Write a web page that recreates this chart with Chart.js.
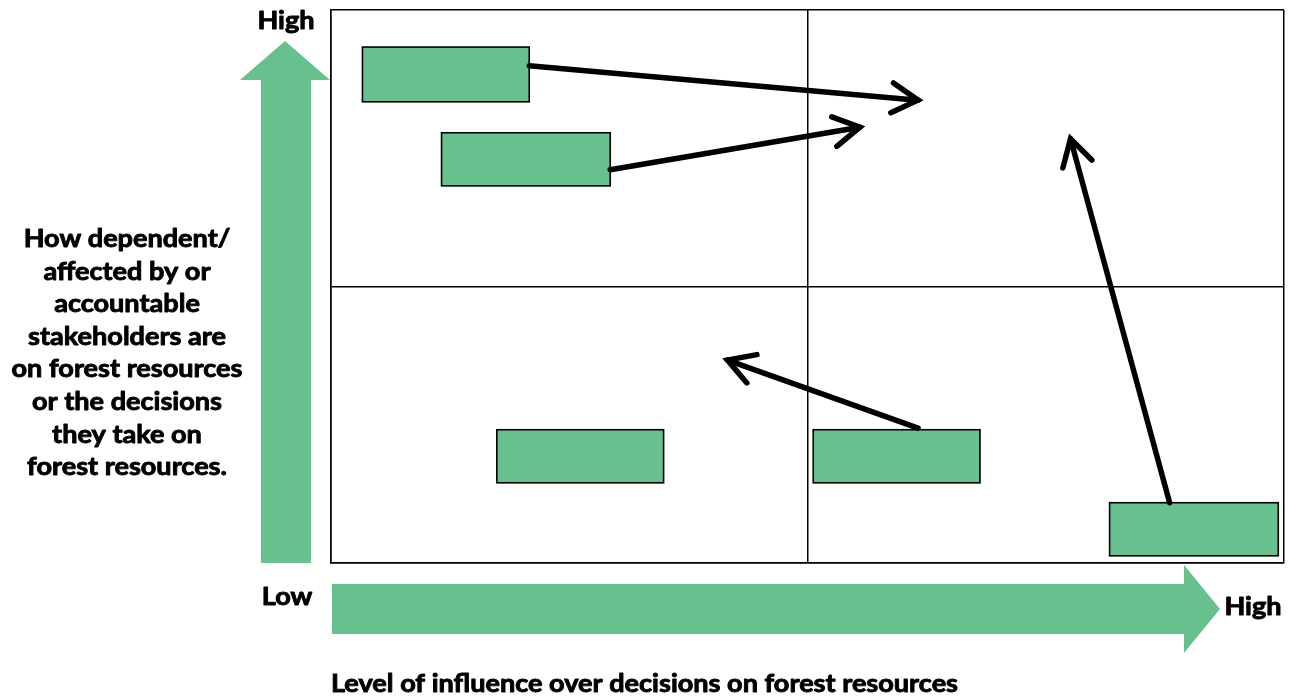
<!DOCTYPE html>
<html><head><meta charset="utf-8">
<script src="https://cdn.jsdelivr.net/npm/chart.js@4.4.1/dist/chart.umd.min.js"></script>
<style>html,body{margin:0;padding:0;background:#fff}#wrap{width:1298px;height:700px}</style>
</head><body><div id="wrap"><canvas id="c" width="1298" height="700"></canvas></div>
<script>
// Stakeholder boxes: x range (influence) and y range (dependency), 0-100 scale
const boxNames = ['A', 'B', 'C', 'D', 'E'];
const boxX0 = [3.3, 11.6, 17.4, 50.6, 81.7];
const boxX1 = [20.8, 29.3, 34.9, 68.1, 99.4];
const boxY0 = [83.4, 68.2, 14.5, 14.5, 1.3];
const boxY1 = [93.3, 77.8, 24.1, 24.1, 10.9];
// Arrows: start -> end
const arrowFromX = [20.8, 29.3, 61.6, 88.0];
const arrowFromY = [89.9, 71.1, 24.4, 10.9];
const arrowToX = [61.6, 55.5, 41.6, 77.6];
const arrowToY = [83.7, 78.8, 36.7, 76.7];
// Axis labels
const yAxisLines = ['How dependent/', 'affected by or', 'accountable', 'stakeholders are', 'on forest resources', 'or the decisions', 'they take on', 'forest resources.'];
const xAxisTitle = 'Level of influence over decisions on forest resources';
const lowLabel = 'Low', highLabel = 'High';

const GREEN = '#67c18e';
const FAMILY = 'Lato, "Open Sans", sans-serif';

const datasets = arrowFromX.map((x, i) => ({
  type: 'line',
  data: [{x: x, y: arrowFromY[i]}, {x: arrowToX[i], y: arrowToY[i]}],
  borderColor: '#000', borderWidth: 5.5, pointRadius: 0, borderCapStyle: 'round', fill: false
}));

const boxPlugin = {
  id: 'boxes',
  beforeDatasetsDraw(chart) {
    const {ctx, scales: {x, y}} = chart;
    ctx.save();
    boxNames.forEach((n, i) => {
      const l = x.getPixelForValue(boxX0[i]), r = x.getPixelForValue(boxX1[i]);
      const t = y.getPixelForValue(boxY1[i]), b = y.getPixelForValue(boxY0[i]);
      ctx.fillStyle = GREEN;
      ctx.fillRect(l, t, r - l, b - t);
      ctx.strokeStyle = '#000'; ctx.lineWidth = 1.6;
      ctx.strokeRect(l, t, r - l, b - t);
    });
    ctx.restore();
  },
  afterDatasetsDraw(chart) {
    const {ctx, scales: {x, y}} = chart;
    ctx.save();
    ctx.strokeStyle = '#000'; ctx.lineWidth = 5.5; ctx.lineCap = 'round'; ctx.lineJoin = 'miter';
    arrowFromX.forEach((fx, i) => {
      const x0 = x.getPixelForValue(fx), y0 = y.getPixelForValue(arrowFromY[i]);
      const x1 = x.getPixelForValue(arrowToX[i]), y1 = y.getPixelForValue(arrowToY[i]);
      const a = Math.atan2(y1 - y0, x1 - x0);
      const L = 30, h = Math.PI / 6;
      ctx.beginPath();
      ctx.moveTo(x1 - L * Math.cos(a - h), y1 - L * Math.sin(a - h));
      ctx.lineTo(x1, y1);
      ctx.lineTo(x1 - L * Math.cos(a + h), y1 - L * Math.sin(a + h));
      ctx.stroke();
    });
    ctx.restore();
  },
  afterDraw(chart) {
    const {ctx, chartArea: ca} = chart;
    ctx.save();
    ctx.fillStyle = GREEN;
    // vertical big arrow
    ctx.beginPath();
    ctx.moveTo(261, ca.bottom); ctx.lineTo(261, 80); ctx.lineTo(240, 80); ctx.lineTo(285, 41);
    ctx.lineTo(330, 80); ctx.lineTo(311, 80); ctx.lineTo(311, ca.bottom); ctx.closePath(); ctx.fill();
    // horizontal big arrow
    ctx.beginPath();
    ctx.moveTo(332, 584); ctx.lineTo(1184, 584); ctx.lineTo(1184, 565); ctx.lineTo(1220, 609);
    ctx.lineTo(1184, 653); ctx.lineTo(1184, 634); ctx.lineTo(332, 634); ctx.closePath(); ctx.fill();
    // texts: bold, horizontally fitted to the reference width of the bottom title
    const size = 25;
    ctx.font = 'bold ' + size + 'px ' + FAMILY;
    const sx = 627 / ctx.measureText(xAxisTitle).width;
    ctx.fillStyle = '#000'; ctx.strokeStyle = '#000'; ctx.lineWidth = 0.9; ctx.lineJoin = 'round';
    ctx.textBaseline = 'alphabetic';
    const put = (s, cx, by, align) => {
      ctx.save(); ctx.translate(cx, by); ctx.scale(sx, 1); ctx.textAlign = align || 'center';
      ctx.fillText(s, 0, 0); ctx.strokeText(s, 0, 0); ctx.restore();
    };
    put(highLabel, 286, 29);
    put(lowLabel, 287, 605);
    put(highLabel, 1253, 615);
    yAxisLines.forEach((s, i) => put(s, 127, 247 + i * 32.6));
    put(xAxisTitle, 331, 692, 'left');
    ctx.restore();
  }
};

new Chart(document.getElementById('c'), {
  type: 'scatter',
  data: {datasets},
  options: {
    responsive: false, animation: false,
    layout: {padding: {left: 331, right: 14, top: 10, bottom: 137}},
    plugins: {legend: {display: false}, tooltip: {enabled: false}},
    scales: {
      x: {type: 'linear', min: 0, max: 100,
          ticks: {display: false, stepSize: 50},
          grid: {color: '#000', lineWidth: 1.5, drawTicks: false},
          border: {display: true, color: '#000', width: 1.5}},
      y: {type: 'linear', min: 0, max: 100,
          ticks: {display: false, stepSize: 50},
          grid: {color: '#000', lineWidth: 1.5, drawTicks: false},
          border: {display: true, color: '#000', width: 1.5}}
    }
  },
  plugins: [boxPlugin]
});
</script></body></html>
